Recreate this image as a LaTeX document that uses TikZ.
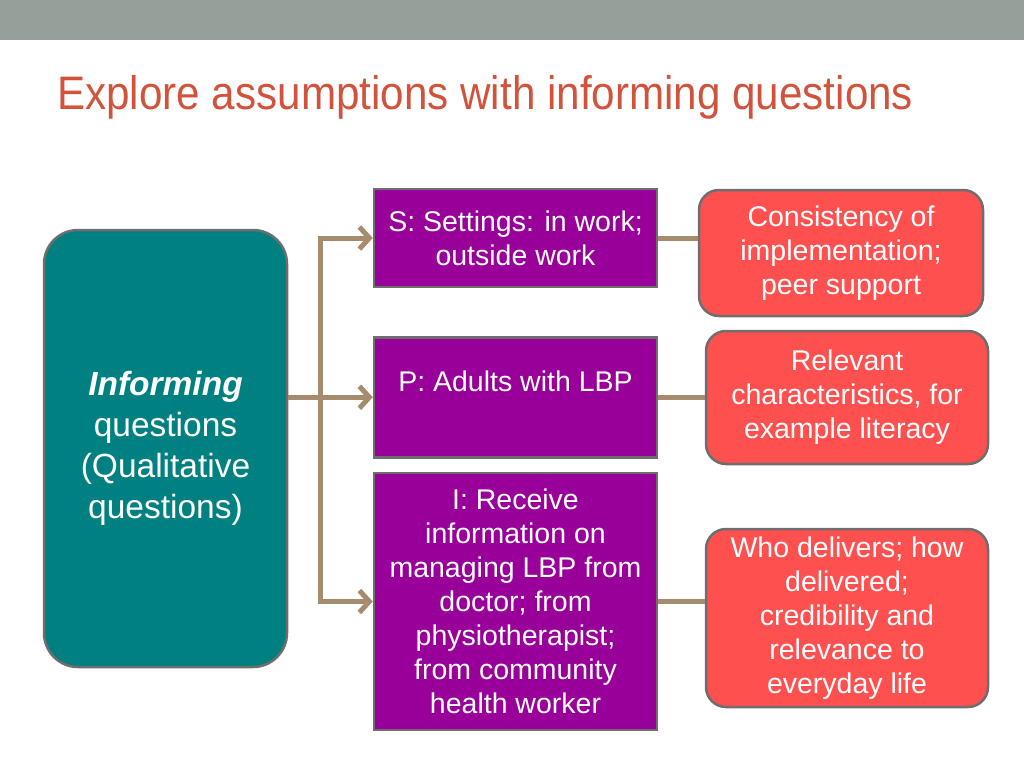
\documentclass[tikz,border=0pt]{standalone}
\usepackage{fontspec}
\setmainfont{Liberation Sans}
\usepackage{xcolor}
\usepackage{graphicx}
\usepackage{tikz}
\usetikzlibrary{positioning,calc,arrows.meta}
\definecolor{barGray}{HTML}{95A09A}
\definecolor{titleRed}{HTML}{D2533C}
\definecolor{tealFill}{HTML}{008080}
\definecolor{purpleFill}{HTML}{990099}
\definecolor{redFill}{HTML}{FF5050}
\definecolor{edgeGray}{HTML}{6E6E6E}
\definecolor{linkTan}{HTML}{A68C6C}

\begin{document}
\begin{tikzpicture}[x=1pt,y=-1pt,
    box/.style={draw=edgeGray, line width=2.5pt, text=white, align=center, inner sep=0pt,
        font=\fontsize{28.5}{34}\selectfont},
    qbox/.style={box, fill=tealFill, rounded corners=34pt, minimum width=243pt, minimum height=437pt,
        font=\fontsize{33.5}{41}\selectfont},
    pbox/.style={box, fill=purpleFill, minimum width=283pt},
    rbox/.style={box, fill=redFill, rounded corners=20pt, minimum width=282pt},
    link/.style={draw=linkTan, line width=5pt},
    linkarrow/.style={link, -{Straight Barb[length=10pt,width=22pt]}}]
    \useasboundingbox (0,0) rectangle (1024,768);

    % Header bar and title
    \fill[barGray] (0,0) rectangle (1024,40);
    \node[anchor=base west, inner sep=0pt, text=titleRed] (title) at (57,109)
        {\fontsize{47}{50}\selectfont\resizebox{856pt}{\height}{Explore assumptions with informing questions}};

    % Left box
    \node[qbox] (inf) at (165.5,448.5) {\textbf{\textit{Informing}}\\questions\\(Qualitative\\questions)};

    % Purple column
    \node[pbox, minimum height=98pt] (set) at (515.5,238) {S: Settings: in work;\\outside work};
    \node[pbox, anchor=north, text height=54pt, text depth=66pt] (adu) at (515.5,336) {P: Adults with LBP};
    \node[pbox, minimum height=257pt] (rec) at (515.5,601.5)
        {I: Receive\\information on\\managing LBP from\\doctor; from\\physiotherapist;\\from community\\health worker};

    % Red column
    \node[rbox, minimum width=284pt, minimum height=126pt] (con) at (841,253)
        {Consistency of\\implementation;\\peer support};
    \node[rbox, minimum height=133pt] (rel) at (847,397.5)
        {Relevant\\characteristics, for\\example literacy};
    \node[rbox, minimum height=178pt] (who) at (847,618)
        {Who delivers; how\\delivered;\\credibility and\\relevance to\\everyday life};

    % Branching arrows
    \coordinate (split) at (320,396);
    \draw[linkarrow] (inf.east |- adu.west) -- (adu.west);
    \draw[linkarrow] (split) |- (set.west);
    \draw[linkarrow] (split) |- (rec.west);

    % Plain links to the right
    \draw[link] (set.east) -- (set.east -| con.west);
    \draw[link] (adu.east) -- (adu.east -| rel.west);
    \draw[link] (rec.east) -- (rec.east -| who.west);
\end{tikzpicture}
\end{document}
